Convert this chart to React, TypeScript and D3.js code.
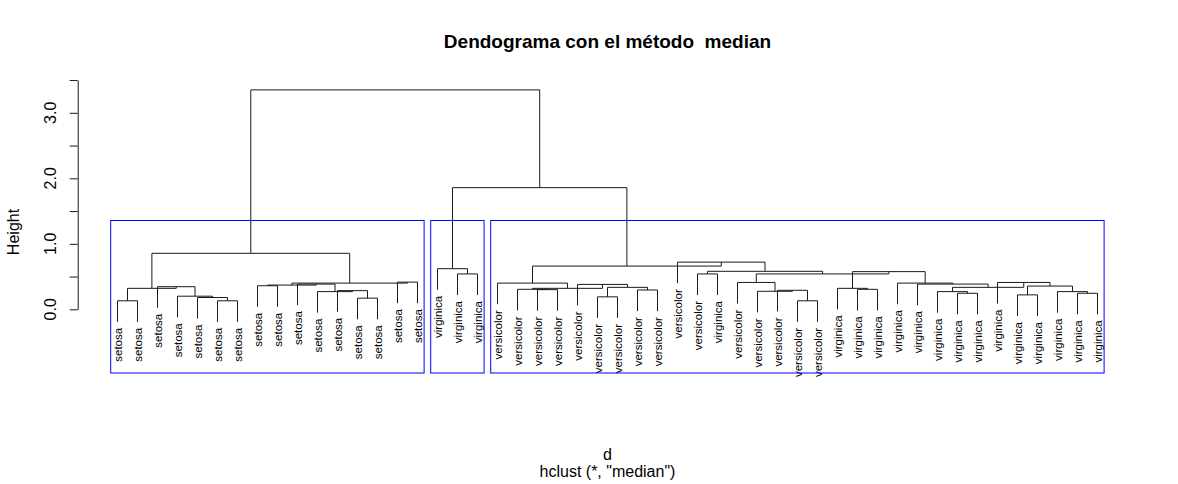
import React, { useRef, useEffect } from 'react'
import * as d3 from 'd3'

// leaf labels, left to right as drawn
const leafLabels = [
  'setosa', 'setosa', 'setosa', 'setosa', 'setosa', 'setosa', 'setosa', 'setosa',
  'setosa', 'setosa', 'setosa', 'setosa', 'setosa', 'setosa', 'setosa', 'setosa',
  'virginica', 'virginica', 'virginica',
  'versicolor', 'versicolor', 'versicolor', 'versicolor', 'versicolor', 'versicolor',
  'versicolor', 'versicolor', 'versicolor', 'versicolor', 'versicolor',
  'virginica',
  'versicolor', 'versicolor', 'versicolor', 'versicolor', 'versicolor',
  'virginica', 'virginica', 'virginica', 'virginica', 'virginica', 'virginica', 'virginica',
  'virginica', 'virginica', 'virginica', 'virginica', 'virginica', 'virginica', 'virginica',
]

// hclust-style merge table: negative = leaf (-1 is first leaf), positive = earlier merge (1-based)
const merges: [number, number][] = [
  [-1, -2], [-6, -7], [-5, 2], [-4, 3], [-3, 4], [1, 5],
  [-8, -9], [-13, -14], [-12, 8], [-11, 9], [-10, 10], [7, 11], [-15, -16], [12, 13], [6, 14],
  [-18, -19], [-17, 16],
  [-22, -23], [-21, 18], [-25, -26], [-27, -28], [20, 21], [-24, 22], [19, 23], [-20, 24],
  [-30, -31], [-35, -36], [-34, 27], [-33, 28], [-32, 29], [-38, -39], [-37, 31],
  [-43, -44], [-42, 33], [-46, -47], [-49, -50], [-48, 36], [35, 37], [-45, 38], [34, 39],
  [-41, 40], [-40, 41], [32, 42], [30, 43], [26, 44], [-29, 45], [25, 46],
  [17, 47], [15, 48],
]

const heights = [
  0.13, 0.13, 0.18, 0.2, 0.345, 0.32,
  0.36, 0.17, 0.285, 0.27, 0.385, 0.37, 0.415, 0.4, 0.855,
  0.54, 0.62,
  0.3, 0.305, 0.19, 0.295, 0.335, 0.38, 0.32, 0.4,
  0.54, 0.13, 0.29, 0.275, 0.41, 0.305, 0.32,
  0.245, 0.27, 0.22, 0.245, 0.27, 0.355, 0.41, 0.335,
  0.385, 0.4, 0.575, 0.54, 0.58, 0.72, 0.66,
  1.857, 3.35,
]

const yTicks = [0, 0.5, 1, 1.5, 2, 2.5, 3, 3.5]
const yTickLabels = [0, 1, 2, 3]
const numClusters = 3

const title = 'Dendograma con el método  median'
const xLabel = 'd'
const subLabel = 'hclust (*, "median")'

const FONT = '"Liberation Sans", Arial, Helvetica, sans-serif'
const INK = '#1a1a1a'

export default function App() {
  const svgRef = useRef<SVGSVGElement>(null)

  useEffect(() => {
    if (!svgRef.current) return
    const svg = d3.select(svgRef.current)
    svg.selectAll('*').remove()

    const n = leafLabels.length
    const plotBottom = 373
    const x = d3.scaleLinear().domain([1, n]).range([117.5, 1097.5])
    const y = d3.scaleLinear().domain([0, 3.5]).range([309.3, 80.05])
    const hang = 0.1 * (d3.max(heights)! - d3.min(heights)!)

    // leaf order from walking the tree
    const order: number[] = []
    const walk = (id: number) => {
      if (id < 0) { order.push(-id - 1); return }
      const [a, b] = merges[id - 1]
      walk(a)
      walk(b)
    }
    walk(merges.length)
    const leafPos = new Map<number, number>()
    order.forEach((leaf, i) => leafPos.set(leaf, i + 1))

    const nodeX: number[] = []
    const posOf = (id: number) => (id < 0 ? leafPos.get(-id - 1)! : nodeX[id - 1])
    merges.forEach(([a, b], i) => { nodeX[i] = (posOf(a) + posOf(b)) / 2 })

    // branches
    const g = svg.append('g').attr('fill', 'none').attr('stroke', INK).attr('stroke-width', 1)
    merges.forEach(([a, b], i) => {
      const h = heights[i]
      const ha = a < 0 ? h - hang : heights[a - 1]
      const hb = b < 0 ? h - hang : heights[b - 1]
      g.append('path')
        .attr('d', `M${x(posOf(a))},${y(ha)}V${y(h)}H${x(posOf(b))}V${y(hb)}`)
    })

    // leaf labels
    const leafEnd = new Map<number, number>()
    merges.forEach(([a, b], i) => {
      if (a < 0) leafEnd.set(-a - 1, heights[i] - hang)
      if (b < 0) leafEnd.set(-b - 1, heights[i] - hang)
    })
    svg.append('g')
      .selectAll('text')
      .data(order)
      .enter().append('text')
      .attr('transform', d => `translate(${x(leafPos.get(d)!)},${y(leafEnd.get(d)!) + 6}) rotate(-90)`)
      .attr('text-anchor', 'end')
      .attr('dy', '0.35em')
      .style('font-size', '11.5px')
      .style('font-family', FONT)
      .style('fill', '#000')
      .text(d => leafLabels[d])

    // cluster boxes (rect.hclust, k = 3)
    let clusters = [merges.length]
    while (clusters.length < numClusters) {
      let best = -1
      let bh = -Infinity
      clusters.forEach((c, j) => {
        if (c > 0 && heights[c - 1] > bh) { bh = heights[c - 1]; best = j }
      })
      const [a, b] = merges[clusters[best] - 1]
      clusters = [...clusters.slice(0, best), a, b, ...clusters.slice(best + 1)]
    }
    const sortedH = heights.slice().sort(d3.descending)
    const rectTop = (sortedH[numClusters - 2] + sortedH[numClusters - 1]) / 2
    const leavesOf = (id: number): number[] =>
      id < 0 ? [leafPos.get(-id - 1)!] : [...leavesOf(merges[id - 1][0]), ...leavesOf(merges[id - 1][1])]
    clusters.forEach(c => {
      const pos = leavesOf(c)
      const x0 = x(d3.min(pos)! - 0.34)
      const x1 = x(d3.max(pos)! + 0.33)
      svg.append('rect')
        .attr('x', x0)
        .attr('y', y(rectTop))
        .attr('width', x1 - x0)
        .attr('height', plotBottom - y(rectTop))
        .attr('fill', 'none')
        .attr('stroke', '#0000ff')
        .attr('stroke-width', 1)
    })

    // y axis
    const axisG = svg.append('g')
      .attr('transform', 'translate(77.7,0)')
      .call(d3.axisLeft(y).tickValues(yTicks).tickSize(8).tickSizeOuter(0).tickFormat(() => ''))
    axisG.select('.domain').attr('stroke', INK)
    axisG.selectAll('.tick line').attr('stroke', INK)

    svg.append('g')
      .selectAll('text')
      .data(yTickLabels)
      .enter().append('text')
      .attr('transform', d => `translate(56,${y(d)}) rotate(-90)`)
      .attr('text-anchor', 'middle')
      .style('font-size', '16px')
      .style('font-family', FONT)
      .style('fill', '#000')
      .text(d => d3.format('.1f')(d))

    svg.append('text')
      .attr('transform', 'translate(19,232) rotate(-90)')
      .attr('text-anchor', 'middle')
      .style('font-size', '16px')
      .style('font-family', FONT)
      .text('Height')

    // titles
    const cx = x((n + 1) / 2)
    svg.append('text')
      .attr('x', cx).attr('y', 48)
      .attr('text-anchor', 'middle')
      .attr('xml:space', 'preserve')
      .style('white-space', 'pre')
      .style('font-size', '19px')
      .style('font-weight', 'bold')
      .style('font-family', FONT)
      .text(title)

    svg.append('text')
      .attr('x', cx).attr('y', 460)
      .attr('text-anchor', 'middle')
      .style('font-size', '16px')
      .style('font-family', FONT)
      .text(xLabel)

    svg.append('text')
      .attr('x', cx).attr('y', 477)
      .attr('text-anchor', 'middle')
      .style('font-size', '16px')
      .style('font-family', FONT)
      .text(subLabel)
  }, [])

  return (
    <svg
      ref={svgRef}
      width={1178}
      height={484}
      style={{ position: 'absolute', left: 0, top: 0, background: '#fff', fontFamily: FONT }}
    />
  )
}
